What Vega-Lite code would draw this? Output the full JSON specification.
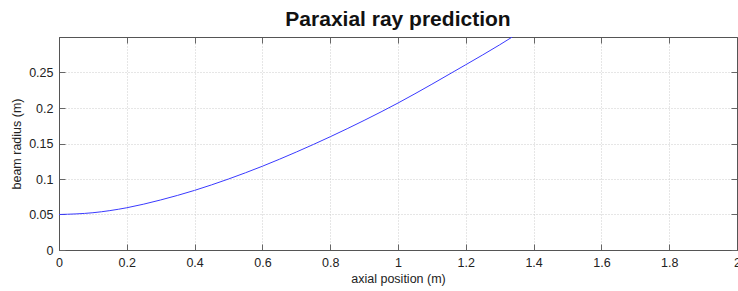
{
  "$schema": "https://vega.github.io/schema/vega-lite/v6.json",
  "width": 678,
  "height": 213,
  "autosize": {"type": "none"},
  "padding": {"left": 59, "top": 37, "right": 1, "bottom": 41},
  "background": "white",
  "title": {
    "text": "Paraxial ray prediction",
    "font": "Liberation Sans",
    "fontSize": 21,
    "fontWeight": "bold",
    "color": "#111111",
    "anchor": "middle",
    "offset": 7
  },
  "config": {
    "view": {"stroke": "#555555", "strokeWidth": 1},
    "axis": {
      "labelFont": "Liberation Sans",
      "titleFont": "Liberation Sans",
      "labelFontSize": 12.5,
      "titleFontSize": 12.5,
      "titleFontWeight": "normal",
      "labelColor": "#222222",
      "titleColor": "#222222",
      "domainColor": "#555555",
      "tickColor": "#666666",
      "gridColor": "#cccccc",
      "gridDash": [1, 2],
      "gridWidth": 1,
      "labelFlush": false,
      "labelOverlap": false,
      "labelBound": false
    }
  },
  "data": {
    "values": [
      {"z": 0.0, "r": 0.05},
      {"z": 0.1, "r": 0.0525},
      {"z": 0.2, "r": 0.0595},
      {"z": 0.3, "r": 0.0705},
      {"z": 0.4, "r": 0.084},
      {"z": 0.5, "r": 0.1},
      {"z": 0.6, "r": 0.118},
      {"z": 0.7, "r": 0.138},
      {"z": 0.8, "r": 0.1595},
      {"z": 0.9, "r": 0.1825},
      {"z": 1.0, "r": 0.207},
      {"z": 1.1, "r": 0.2335},
      {"z": 1.2, "r": 0.261},
      {"z": 1.3, "r": 0.289},
      {"z": 1.337, "r": 0.3}
    ]
  },
  "layer": [
    {
      "mark": {"type": "line", "color": "#3a3aff", "strokeWidth": 1, "interpolate": "monotone", "clip": true},
      "encoding": {
        "x": {
          "field": "z", "type": "quantitative",
          "scale": {"domain": [0, 2], "nice": false, "zero": false},
          "axis": {
            "title": "axial position (m)",
            "values": [0, 0.2, 0.4, 0.6, 0.8, 1, 1.2, 1.4, 1.6, 1.8, 2],
            "format": "~g",
            "tickSize": -6,
            "labelPadding": 12,
            "titlePadding": 4,
            "grid": true
          }
        },
        "y": {
          "field": "r", "type": "quantitative",
          "scale": {"domain": [0, 0.3], "nice": false, "zero": false},
          "axis": {
            "title": "beam radius (m)",
            "values": [0, 0.05, 0.1, 0.15, 0.2, 0.25],
            "format": "~g",
            "tickSize": -6,
            "labelPadding": 12,
            "titlePadding": 5,
            "grid": true
          }
        }
      }
    },
    {
      "mark": {"type": "line", "opacity": 0},
      "encoding": {
        "x": {
          "field": "z", "type": "quantitative",
          "axis": {
            "orient": "top", "title": null, "labels": false, "grid": false,
            "values": [0, 0.2, 0.4, 0.6, 0.8, 1, 1.2, 1.4, 1.6, 1.8, 2],
            "tickSize": -6
          }
        },
        "y": {
          "field": "r", "type": "quantitative",
          "axis": {
            "orient": "right", "title": null, "labels": false, "grid": false,
            "values": [0, 0.05, 0.1, 0.15, 0.2, 0.25],
            "tickSize": -6
          }
        }
      }
    }
  ],
  "resolve": {"axis": {"x": "independent", "y": "independent"}}
}
